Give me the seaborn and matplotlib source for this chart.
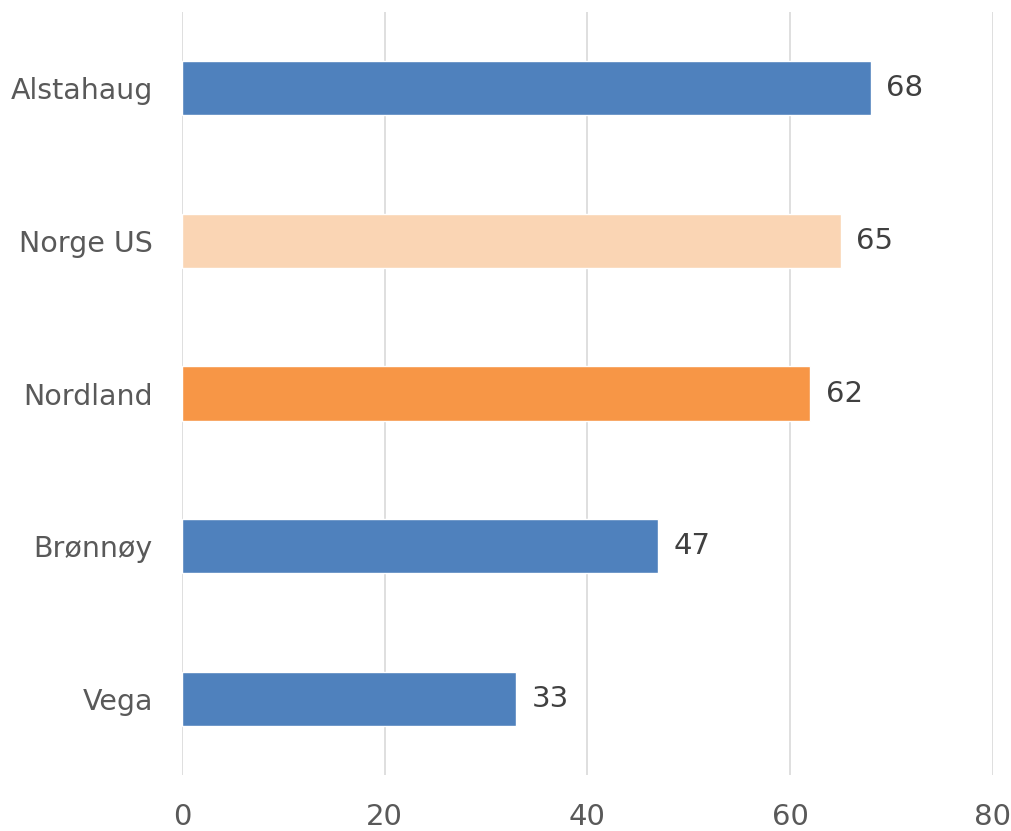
import matplotlib
matplotlib.use("Agg")
import matplotlib.pyplot as plt
import seaborn as sns
import pandas as pd

# Data
categories = ["Alstahaug", "Norge US", "Nordland", "Brønnøy", "Vega"]
values = [68, 65, 62, 47, 33]
bar_colors = ["#4F81BD", "#FAD5B4", "#F79646", "#4F81BD", "#4F81BD"]
x_ticks = [0, 20, 40, 60, 80]

df = pd.DataFrame({"kommune": categories, "verdi": values})

sns.set_style("white")
plt.rcParams["font.family"] = ["DejaVu Sans"]

fig = plt.figure(figsize=(10.11, 8.31), dpi=100)
ax = fig.add_axes([0.180, 0.0674, 0.802, 0.918])

sns.barplot(data=df, x="verdi", y="kommune", hue="kommune", palette=bar_colors,
            legend=False, width=0.355, saturation=1, ax=ax, zorder=3)

for i, v in enumerate(values):
    ax.text(v + 1.5, i, str(v), va="center", ha="left", fontsize=21, color="#404040")

ax.set_xlim(0, 80)
ax.set_ylim(4.5, -0.5)
ax.set_xticks(x_ticks)
ax.xaxis.grid(True, color="#D9D9D9", linewidth=1.2, zorder=0)
ax.set_axisbelow(True)
ax.tick_params(axis="y", length=0, labelsize=20.5, colors="#595959", pad=21)
ax.tick_params(axis="x", length=0, labelsize=21, colors="#595959", pad=20)
ax.set_xlabel("")
ax.set_ylabel("")
for s in ax.spines.values():
    s.set_visible(False)

fig.savefig("out.png", dpi=100)
